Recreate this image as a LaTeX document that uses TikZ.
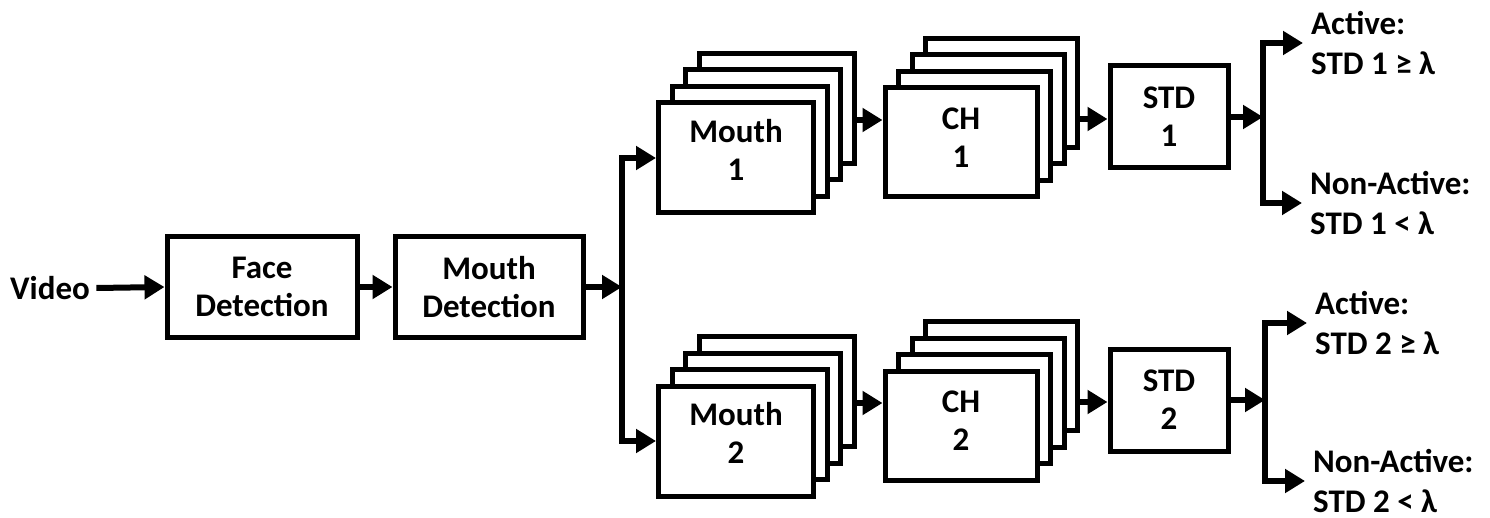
\documentclass[tikz,border=0pt]{standalone}
\usepackage{fontspec}
\setmainfont{Carlito}
\usetikzlibrary{arrows.meta,calc}

% a block with three copies stacked behind it; #6 lifts the caption
\newcommand\blockstack[6]{%
  \foreach \k in {3,2,1}
    \node[blk, minimum width=#3, minimum height=#4] (#1-\k) at ($(#2)+(\k*13.5,-\k*16.5)$) {};
  \node[blk, minimum width=#3, minimum height=#4] (#1) at (#2) {};
  \node (#1-t) at ($(#1)+(0,-#6)$) {#5};
}

\begin{document}
\begin{tikzpicture}[x=1pt,y=-1pt,
  every node/.style={font=\bfseries\fontsize{33}{38}\selectfont, align=center},
  blk/.style={draw, line width=5pt, fill=white, inner sep=0pt},
  conn/.style={line width=6pt},
  arr/.style={conn, -{Triangle[length=20pt,width=23pt]}},
  outtxt/.style={anchor=west, align=left, inner xsep=8pt, inner ysep=0pt,
    font=\bfseries\fontsize{33}{40}\selectfont}]
\useasboundingbox (0,0) rectangle (1490,518);

% input chain
\node (video) at (50,288) {Video};
\node[blk, minimum width=190pt, minimum height=101pt] (face) at (262,287) {Face\\Detection};
\node[blk, minimum width=188pt, minimum height=101pt] (md) at (489,287) {Mouth\\Detection};
\coordinate (sp) at (622,287);

% upper branch
\blockstack{m1}{736,158}{155pt}{110pt}{Mouth\\1}{8}
\blockstack{c1}{961,142.5}{152pt}{109pt}{CH\\1}{5}
\node[blk, minimum width=118pt, minimum height=102pt] (s1) at (1169,117) {STD\\1};
\coordinate (j1) at (1263,117);
\node[outtxt] (a1) at (1303,43) {Active:\\STD 1 ≥ λ};
\node[outtxt] (n1) at (1302,203) {Non-Active:\\STD 1 < λ};

% lower branch
\blockstack{m2}{736,441}{155pt}{110pt}{Mouth\\2}{8}
\blockstack{c2}{961,425.5}{152pt}{109pt}{CH\\2}{5}
\node[blk, minimum width=118pt, minimum height=102pt] (s2) at (1169,400) {STD\\2};
\coordinate (j2) at (1265,400);
\node[outtxt] (a2) at (1307,323) {Active:\\STD 2 ≥ λ};
\node[outtxt] (n2) at (1305,481) {Non-Active:\\STD 2 < λ};

% connectors of the input chain
\draw[arr] ([xshift=3pt]video.east) -- (face.west);
\draw[arr] (face.east) -- (md.west);
\draw[arr] (md.east) -- (sp);
\draw[arr] (sp |- m2.west) -- (sp |- m1.west) -- (m1.west);
\draw[arr] (sp |- m1.west) -- (sp |- m2.west) -- (m2.west);

% connectors of the upper branch
\coordinate (t1) at ($(m1-3.east)+(0,11.5)$);
\draw[arr] (t1) -- (t1 -| c1.west);
\coordinate (u1) at ($(c1-3.east)+(0,26)$);
\draw[arr] (u1) -- (u1 -| s1.west);
\draw[arr] (s1.east) -- (j1);
\draw[arr] (j1 |- n1.west) -- (j1 |- a1.west) -- (a1.west);
\draw[arr] (j1 |- a1.west) -- (j1 |- n1.west) -- (n1.west);

% connectors of the lower branch
\coordinate (t2) at ($(m2-3.east)+(0,11.5)$);
\draw[arr] (t2) -- (t2 -| c2.west);
\coordinate (u2) at ($(c2-3.east)+(0,26)$);
\draw[arr] (u2) -- (u2 -| s2.west);
\draw[arr] (s2.east) -- (j2);
\draw[arr] (j2 |- n2.west) -- (j2 |- a2.west) -- (a2.west);
\draw[arr] (j2 |- a2.west) -- (j2 |- n2.west) -- (n2.west);
\end{tikzpicture}
\end{document}
